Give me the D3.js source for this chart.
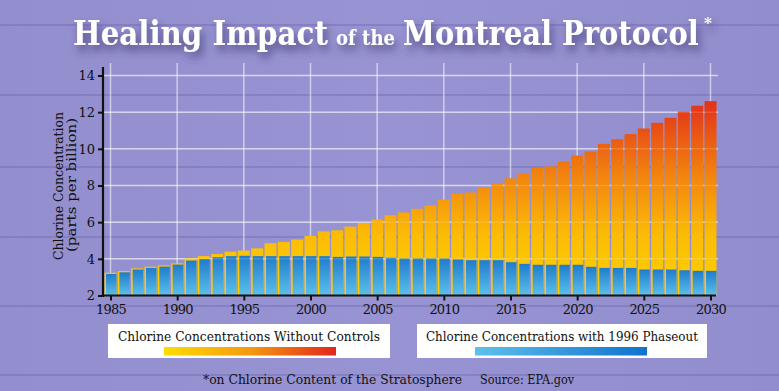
<!DOCTYPE html>
<html><head><meta charset="utf-8">
<script src="https://cdn.jsdelivr.net/npm/d3@7"></script>
<style>html,body{margin:0;padding:0;background:#9590cf;}svg{display:block;}</style>
</head><body>
<script>
const years = d3.range(1985, 2031);
const withoutControls = [3.24,3.33,3.48,3.57,3.64,3.75,4.03,4.15,4.26,4.39,4.45,4.57,4.85,4.92,5.05,5.25,5.50,5.56,5.76,5.96,6.14,6.38,6.53,6.73,6.91,7.24,7.55,7.62,7.89,8.09,8.39,8.68,8.97,9.04,9.30,9.63,9.85,10.27,10.52,10.80,11.11,11.42,11.69,12.04,12.35,12.60];
const withPhaseout = [3.22,3.31,3.46,3.55,3.62,3.73,3.95,4.03,4.13,4.19,4.21,4.19,4.19,4.19,4.19,4.19,4.19,4.15,4.17,4.17,4.15,4.10,4.06,4.06,4.06,4.06,4.01,3.97,3.97,3.97,3.86,3.77,3.72,3.72,3.72,3.72,3.61,3.55,3.55,3.55,3.46,3.46,3.46,3.42,3.39,3.39];
const yTicks = [2,4,6,8,10,12,14];
const xTicks = [1985,1990,1995,2000,2005,2010,2015,2020,2025,2030];
const legendLabels = ["Chlorine Concentrations Without Controls","Chlorine Concentrations with 1996 Phaseout"];

const W = 779, H = 391;
const svg = d3.select("body").append("svg").attr("width", W).attr("height", H);
const defs = svg.append("defs");

// background
const bg = defs.append("linearGradient").attr("id","bg").attr("x1",0).attr("x2",1).attr("y1",0).attr("y2",0);
bg.append("stop").attr("offset",0).attr("stop-color","#938ecd");
bg.append("stop").attr("offset",0.5).attr("stop-color","#9893d2");
bg.append("stop").attr("offset",1).attr("stop-color","#928dcc");
svg.append("rect").attr("width",W).attr("height",H).attr("fill","url(#bg)");
const seams = [25,95,167,237,306,375];
svg.selectAll("line.seam").data(seams).join("line").attr("class","seam")
  .attr("x1",0).attr("x2",W).attr("y1",d=>d).attr("y2",d=>d)
  .attr("stroke","#726db0").attr("stroke-width",2).attr("opacity",0.45);

const x = d3.scaleLinear().domain([1985,2030]).range([110.5,710.5]);
const y = d3.scaleLinear().domain([2,14]).range([295.5,75.5]);

// gradients
const og = defs.append("linearGradient").attr("id","og").attr("gradientUnits","userSpaceOnUse")
  .attr("x1",0).attr("x2",0).attr("y1",y(2)).attr("y2",y(13));
og.append("stop").attr("offset",0).attr("stop-color","#ffd200");
og.append("stop").attr("offset",0.3).attr("stop-color","#fbbc06");
og.append("stop").attr("offset",0.6).attr("stop-color","#f2830e");
og.append("stop").attr("offset",1).attr("stop-color","#e2281a");
const bgr = defs.append("linearGradient").attr("id","bgr").attr("x1",0).attr("x2",0).attr("y1",0).attr("y2",1);
bgr.append("stop").attr("offset",0).attr("stop-color","#1f7ccc");
bgr.append("stop").attr("offset",1).attr("stop-color","#5cc0ea");
const lo = defs.append("linearGradient").attr("id","lo");
lo.append("stop").attr("offset",0).attr("stop-color","#ffdc00");
lo.append("stop").attr("offset",0.5).attr("stop-color","#f39a10");
lo.append("stop").attr("offset",1).attr("stop-color","#e3261c");
const lb = defs.append("linearGradient").attr("id","lb");
lb.append("stop").attr("offset",0).attr("stop-color","#5ec1ea");
lb.append("stop").attr("offset",1).attr("stop-color","#1072cc");

const sh = defs.append("filter").attr("id","sh").attr("x","-10%").attr("y","-30%").attr("width","130%").attr("height","190%");
sh.append("feDropShadow").attr("dx",3).attr("dy",6).attr("stdDeviation",4).attr("flood-color","#3a3470").attr("flood-opacity",0.75);

// gridlines
function drawGrid(op){
  const grid = svg.append("g").attr("stroke","#ffffff").attr("stroke-opacity",op).attr("stroke-width",1.5);
  grid.selectAll("line.h").data(yTicks.slice(1)).join("line")
    .attr("x1",103).attr("x2",718).attr("y1",d=>y(d)).attr("y2",d=>y(d));
  return grid;
}
const g1 = drawGrid(0.55);
g1.selectAll("line.v").data(xTicks).join("line")
  .attr("x1",d=>x(d)).attr("x2",d=>x(d)).attr("y1",63).attr("y2",y(2));

// bars
const bw = 12;
svg.append("g").selectAll("rect").data(years).join("rect")
  .attr("x",(d)=>x(d)-bw/2).attr("width",bw)
  .attr("y",(d,i)=>y(withoutControls[i])).attr("height",(d,i)=>y(2)-y(withoutControls[i]))
  .attr("fill","url(#og)");
svg.append("g").selectAll("rect").data(years).join("rect")
  .attr("x",(d)=>x(d)-bw/2+1.5).attr("width",bw-1.5)
  .attr("y",(d,i)=>y(withPhaseout[i])+0.8).attr("height",(d,i)=>y(2)-y(withPhaseout[i])-0.8)
  .attr("fill","url(#bgr)");
drawGrid(0.15);

const font = "'DejaVu Serif', serif";
// axes
const ya = svg.append("g").attr("transform","translate(103,0)")
  .call(d3.axisLeft(y).tickValues(yTicks).tickSize(5).tickPadding(3).tickFormat(d3.format("d")));
ya.select(".domain").attr("d",`M0,67V${y(2)+1.5}`);
const xa = svg.append("g").attr("transform",`translate(0,${y(2)})`)
  .call(d3.axisBottom(x).tickValues(xTicks).tickSize(5).tickPadding(4).tickFormat(d3.format("d")));
xa.select(".domain").attr("d","M103,0H716");
svg.selectAll(".domain").attr("stroke","#111").attr("stroke-width",2.2);
svg.selectAll(".tick line").attr("stroke","#111").attr("stroke-width",2);
svg.selectAll(".tick text").attr("font-family",font).attr("font-size",13).attr("fill","#111");
xa.selectAll(".tick text").attr("letter-spacing",-0.8);

// y label
svg.append("text").attr("transform","translate(63,186) rotate(-90)").attr("text-anchor","middle")
  .attr("font-family",font).attr("font-size",13.5).attr("fill","#111")
  .attr("textLength",148).attr("lengthAdjust","spacingAndGlyphs").text("Chlorine Concentration");
svg.append("text").attr("transform","translate(76,185) rotate(-90)").attr("text-anchor","middle")
  .attr("font-family",font).attr("font-size",13.5).attr("fill","#111")
  .attr("textLength",134).attr("lengthAdjust","spacingAndGlyphs").text("(parts per billion)");

// title: fit each piece horizontally via a scale transform
const tg = svg.append("g").attr("font-family","'DejaVu Serif', serif").attr("font-weight","bold").attr("fill","#fff").attr("filter","url(#sh)");
function fitText(str, x0, y0, size, width){
  const t = tg.append("text").attr("font-size",size).text(str);
  const natural = t.node().getComputedTextLength();
  const sx = width ? width / natural : 1;
  t.attr("transform",`translate(${x0},${y0}) scale(${sx},1)`);
  return t;
}
fitText("Healing Impact", 73, 45, 34, 255);
fitText("of the", 336, 45, 21, 59);
fitText("Montreal Protocol", 403, 45, 34, 296);
fitText("*", 704, 28, 15, null);

// legend
const legend = [
  {bx:108, bw:282, gx:164, gw:172, fill:"url(#lo)", tl:262},
  {bx:417, bw:290, gx:475, gw:172, fill:"url(#lb)", tl:272}
];
legend.forEach((l,i)=>{
  svg.append("rect").attr("x",l.bx).attr("y",324).attr("width",l.bw).attr("height",34).attr("fill","#fff");
  svg.append("rect").attr("x",l.gx).attr("y",347).attr("width",l.gw).attr("height",8.5).attr("fill",l.fill);
  svg.append("text").attr("x",l.bx+l.bw/2).attr("y",341).attr("text-anchor","middle")
    .attr("font-family",font).attr("font-size",13.5).attr("fill","#111")
    .attr("textLength",l.tl).attr("lengthAdjust","spacingAndGlyphs").text(legendLabels[i]);
});

// footnote
svg.append("text").attr("x",203).attr("y",384).attr("font-family",font).attr("font-size",13.5).attr("fill","#111")
  .attr("textLength",259).attr("lengthAdjust","spacingAndGlyphs").text("*on Chlorine Content of the Stratosphere");
svg.append("text").attr("x",480).attr("y",384).attr("font-family",font).attr("font-size",13.5).attr("fill","#111")
  .attr("textLength",94).attr("lengthAdjust","spacingAndGlyphs").text("Source: EPA.gov");
</script>
</body></html>
